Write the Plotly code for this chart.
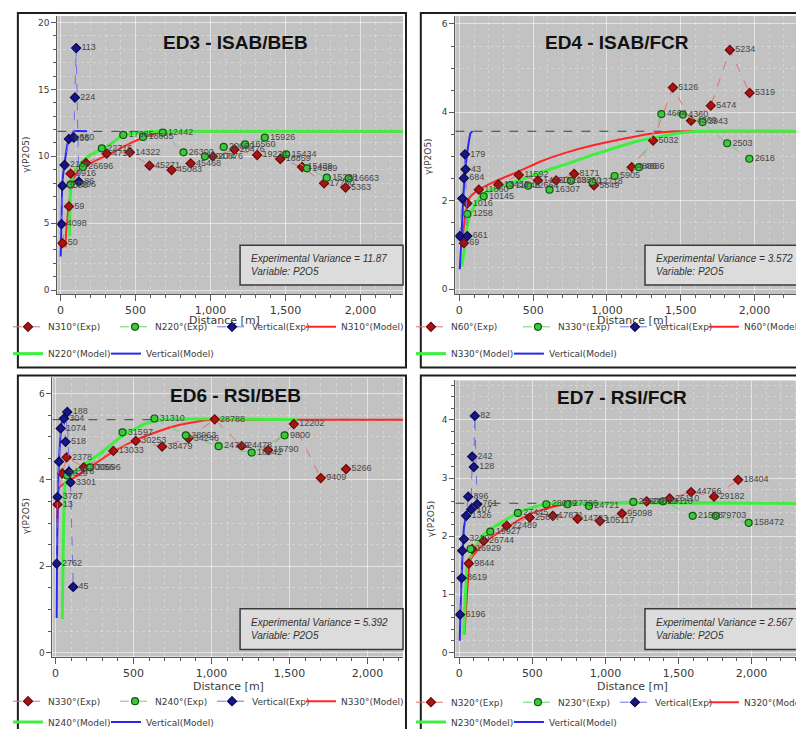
import plotly.graph_objects as go

W, H = 804, 729

# ===================== data =====================
# ---- ED3 - ISAB/BEB ----
ED3_VARIANCE = 11.87
ED3_N310_DIST = [13, 57, 68, 170, 309, 463, 594, 741, 868, 1015, 1160, 1311, 1465, 1610, 1757, 1900]
ED3_N310_GAMMA = [3.5, 6.25, 8.7, 9.5, 10.2, 10.3, 9.3, 8.97, 9.47, 10.0, 10.5, 10.1, 9.8, 9.2, 7.98, 7.66]
ED3_N310_PAIRS = ["50", "59", "9916", "", "4716", "14322", "45271", "45083", "45468", "20876", "20476",
                  "19234", "18859", "15439", "17760", "5363"]
ED3_N220_DIST = [68, 150, 276, 419, 551, 682, 820, 963, 1088, 1231, 1362, 1504, 1643, 1775, 1921]
ED3_N220_GAMMA = [7.9, 9.2, 10.6, 11.6, 11.45, 11.77, 10.3, 10.0, 10.7, 10.9, 11.4, 10.15, 9.1, 8.4, 8.35]
ED3_N220_PAIRS = ["7596", "26696", "22716", "17085", "18035", "12442", "26300", "20474", "20660", "16560",
                  "15926", "15434", "14569", "15288", "16663"]
ED3_VERT_DIST = [7, 13, 28, 57, 90, 97, 105, 123]
ED3_VERT_GAMMA = [4.93, 7.8, 9.35, 11.3, 11.4, 14.4, 18.1, 8.1]
ED3_VERT_PAIRS = ["4098", "3596", "2139", "936", "680", "224", "113", "86"]
ED3_N310_MODEL_DIST = [33, 40, 50, 60, 79, 123, 222, 331, 485, 600, 700, 800, 2290]
ED3_N310_MODEL_GAMMA = [3.2, 4.6, 5.7, 6.6, 7.98, 8.97, 9.6, 10.2, 11.08, 11.6, 11.85, 11.87, 11.87]
ED3_N220_MODEL_DIST = [62, 64, 68, 80, 112, 199, 309, 419, 572, 650, 2290]
ED3_N220_MODEL_GAMMA = [4.0, 6.0, 7.73, 8.5, 9.2, 10.1, 10.7, 11.58, 11.82, 11.87, 11.87]
ED3_VERT_MODEL_DIST = [2, 7, 13, 28, 51, 75, 90, 178]
ED3_VERT_MODEL_GAMMA = [2.5, 5.0, 8.0, 9.47, 11.08, 11.6, 11.87, 11.87]

# ---- ED4 - ISAB/FCR ----
ED4_VARIANCE = 3.572
ED4_N60_DIST = [31, 54, 132, 265, 403, 533, 656, 778, 912, 1168, 1313, 1447, 1570, 1704, 1833, 1967]
ED4_N60_GAMMA = [1.04, 1.94, 2.25, 2.37, 2.58, 2.46, 2.46, 2.61, 2.35, 2.76, 3.36, 4.56, 3.81, 4.15, 5.41, 4.44]
ED4_N60_PAIRS = ["69", "1016", "11860", "13452", "11592", "14750", "16208", "8171", "5849", "4886", "5032",
                 "5126", "4369", "5474", "5234", "5319"]
ED4_N330_DIST = [54, 165, 343, 466, 611, 756, 901, 1052, 1218, 1369, 1514, 1648, 1815, 1965]
ED4_N330_GAMMA = [1.70, 2.10, 2.35, 2.34, 2.25, 2.45, 2.43, 2.56, 2.76, 3.96, 3.95, 3.78, 3.30, 2.95]
ED4_N330_PAIRS = ["1258", "10145", "11746", "12664", "16307", "13560", "12718", "5905", "4886", "4664",
                  "4360", "3943", "2503", "2618"]
ED4_VERT_DIST = [3, 20, 31, 38, 42, 54]
ED4_VERT_GAMMA = [1.2, 2.05, 2.51, 3.05, 2.71, 1.2]
ED4_VERT_PAIRS = ["", "", "684", "179", "43", "661"]
ED4_N60_MODEL_DIST = [20, 30, 45, 65, 132, 250, 400, 560, 734, 900, 1068, 1200, 1336, 1450, 1550, 2330]
ED4_N60_MODEL_GAMMA = [0.97, 1.4, 1.75, 2.05, 2.25, 2.45, 2.66, 2.9, 3.1, 3.25, 3.37, 3.46, 3.53, 3.565, 3.572, 3.572]
ED4_N330_MODEL_DIST = [15, 31, 50, 76, 154, 332, 400, 560, 734, 900, 1068, 1200, 1358, 1500, 1626, 2330]
ED4_N330_MODEL_GAMMA = [0.5, 0.82, 1.35, 1.71, 2.13, 2.39, 2.45, 2.65, 2.84, 3.03, 3.21, 3.34, 3.45, 3.53, 3.572, 3.572]
ED4_VERT_MODEL_DIST = [3, 10, 15, 20, 25, 31, 40, 54, 65, 76, 90]
ED4_VERT_MODEL_GAMMA = [0.45, 0.9, 1.19, 1.6, 1.95, 2.3, 2.7, 3.1, 3.35, 3.53, 3.572]

# ---- ED6 - RSI/BEB ----
ED6_VARIANCE = 5.392
ED6_N330_DIST = [13, 44, 72, 182, 371, 515, 684, 853, 1021, 1194, 1363, 1528, 1701, 1863]
ED6_N330_GAMMA = [3.43, 4.15, 4.52, 4.29, 4.67, 4.9, 4.77, 4.96, 5.40, 4.78, 4.69, 5.29, 4.04, 4.25]
ED6_N330_PAIRS = ["13", "3629", "2378", "30056", "13033", "30253", "38479", "34246", "28788", "24478",
                  "15790", "12202", "9409", "5266"]
ED6_N240_DIST = [75, 224, 430, 635, 836, 1046, 1258, 1469]
ED6_N240_GAMMA = [4.1, 4.29, 5.1, 5.42, 5.03, 4.78, 4.63, 5.03]
ED6_N240_PAIRS = ["", "30696", "31597", "31310", "28963", "24709", "18042", "9800"]
ED6_VERT_DIST = [8, 13, 23, 34, 55, 65, 76, 87, 97, 114]
ED6_VERT_GAMMA = [2.06, 3.6, 4.42, 5.19, 5.42, 4.88, 5.57, 4.19, 3.94, 1.52]
ED6_VERT_PAIRS = ["2762", "3787", "", "1074", "304", "518", "188", "1276", "3301", "45"]
ED6_N330_MODEL_DIST = [12, 15, 25, 60, 120, 224, 371, 540, 751, 962, 1063, 2230]
ED6_N330_MODEL_GAMMA = [3.0, 3.6, 3.82, 3.92, 4.05, 4.3, 4.65, 4.96, 5.23, 5.38, 5.392, 5.392]
ED6_N240_MODEL_DIST = [44, 48, 52, 57, 65, 139, 287, 435, 582, 688, 1550]
ED6_N240_MODEL_GAMMA = [0.78, 1.8, 2.8, 3.5, 3.92, 4.23, 4.61, 5.03, 5.3, 5.392, 5.392]
ED6_VERT_MODEL_DIST = [8, 10, 13, 18, 25, 35, 45, 60]
ED6_VERT_MODEL_GAMMA = [0.8, 2.0, 3.0, 3.9, 4.6, 5.1, 5.392, 5.392]

# ---- ED7 - RSI/FCR ----
ED7_VARIANCE = 2.567
ED7_N320_DIST = [65, 88, 167, 324, 482, 640, 809, 962, 1113, 1282, 1439, 1586, 1743, 1908]
ED7_N320_GAMMA = [1.53, 1.78, 1.92, 2.18, 2.32, 2.35, 2.3, 2.26, 2.39, 2.6, 2.65, 2.76, 2.68, 2.97]
ED7_N320_PAIRS = ["9844", "", "26744", "22489", "25867", "17871", "14723", "105117", "95098", "28610",
                  "25110", "44766", "29182", "18404"]
ED7_N230_DIST = [77, 212, 401, 595, 741, 887, 1191, 1394, 1597, 1755, 1980]
ED7_N230_GAMMA = [1.78, 2.08, 2.4, 2.55, 2.55, 2.52, 2.59, 2.6, 2.35, 2.35, 2.23]
ED7_N230_PAIRS = ["16929", "19927", "27445", "28079", "27396", "24721", "28800", "29110", "21568",
                  "79703", "158472"]
ED7_VERT_DIST = [5, 16, 20, 32, 47, 61, 81, 88, 99, 106, 122]
ED7_VERT_GAMMA = [0.65, 1.28, 1.75, 1.95, 2.35, 2.68, 2.46, 3.37, 3.19, 4.07, 2.55]
ED7_VERT_PAIRS = ["6196", "8619", "", "3210", "1326", "896", "107", "242", "128", "82", "761"]
ED7_N320_MODEL_DIST = [35, 50, 62, 77, 189, 324, 482, 662, 820, 2345]
ED7_N320_MODEL_GAMMA = [0.3, 0.9, 1.3, 1.6, 1.92, 2.15, 2.38, 2.52, 2.567, 2.567]
ED7_N230_MODEL_DIST = [30, 40, 48, 54, 167, 302, 460, 595, 700, 2345]
ED7_N230_MODEL_GAMMA = [0.3, 0.9, 1.3, 1.52, 2.03, 2.26, 2.46, 2.55, 2.567, 2.567]
ED7_VERT_MODEL_DIST = [3, 8, 14, 20, 26, 32, 43, 54, 76, 90]
ED7_VERT_MODEL_GAMMA = [0.2, 0.7, 1.2, 1.55, 1.9, 2.15, 2.3, 2.42, 2.53, 2.567]

X_TITLE = "Distance [m]"
Y_TITLE = "γ(P2O5)"

# ===================== panel configuration =====================
PANELS = [
    dict(title="ED3 - ISAB/BEB", variance=ED3_VARIANCE, d1="N310°", d2="N220°",
         exp=[(ED3_N310_DIST, ED3_N310_GAMMA, ED3_N310_PAIRS),
              (ED3_N220_DIST, ED3_N220_GAMMA, ED3_N220_PAIRS),
              (ED3_VERT_DIST, ED3_VERT_GAMMA, ED3_VERT_PAIRS)],
         mod=[(ED3_N310_MODEL_DIST, ED3_N310_MODEL_GAMMA),
              (ED3_N220_MODEL_DIST, ED3_N220_MODEL_GAMMA),
              (ED3_VERT_MODEL_DIST, ED3_VERT_MODEL_GAMMA)],
         frame=(10, 5, 403, 362), plot=(50, 8, 400, 288), xr=[-20, 2283], yr=[-0.3, 20.5],
         ydt=5, ymin=1, tpos=(230, 35), box=(235, 239, 400, 279), rows=(321, 348),
         xt=(219, 315), yt=(18, 148)),
    dict(title="ED4 - ISAB/FCR", variance=ED4_VARIANCE, d1="N60°", d2="N330°",
         exp=[(ED4_N60_DIST, ED4_N60_GAMMA, ED4_N60_PAIRS),
              (ED4_N330_DIST, ED4_N330_GAMMA, ED4_N330_PAIRS),
              (ED4_VERT_DIST, ED4_VERT_GAMMA, ED4_VERT_PAIRS)],
         mod=[(ED4_N60_MODEL_DIST, ED4_N60_MODEL_GAMMA),
              (ED4_N330_MODEL_DIST, ED4_N330_MODEL_GAMMA),
              (ED4_VERT_MODEL_DIST, ED4_VERT_MODEL_GAMMA)],
         frame=(418, 5, 808, 362), plot=(453, 8, 804, 288), xr=[-27, 2322], yr=[-0.11, 6.18],
         ydt=2, ymin=0.5, tpos=(617, 35), box=(645, 239, 808, 279), rows=(321, 348),
         xt=(632, 315), yt=(425, 150)),
    dict(title="ED6 - RSI/BEB", variance=ED6_VARIANCE, d1="N330°", d2="N240°",
         exp=[(ED6_N330_DIST, ED6_N330_GAMMA, ED6_N330_PAIRS),
              (ED6_N240_DIST, ED6_N240_GAMMA, ED6_N240_PAIRS),
              (ED6_VERT_DIST, ED6_VERT_GAMMA, ED6_VERT_PAIRS)],
         mod=[(ED6_N330_MODEL_DIST, ED6_N330_MODEL_GAMMA),
              (ED6_N240_MODEL_DIST, ED6_N240_MODEL_GAMMA),
              (ED6_VERT_MODEL_DIST, ED6_VERT_MODEL_GAMMA)],
         frame=(10, 370, 403, 728), plot=(45, 372, 400, 653), xr=[-19, 2228], yr=[-0.09, 6.37],
         ydt=2, ymin=0.5, tpos=(230, 390), box=(235, 605, 400, 646), rows=(698, 719),
         xt=(223, 683), yt=(19, 512)),
    dict(title="ED7 - RSI/FCR", variance=ED7_VARIANCE, d1="N320°", d2="N230°",
         exp=[(ED7_N320_DIST, ED7_N320_GAMMA, ED7_N320_PAIRS),
              (ED7_N230_DIST, ED7_N230_GAMMA, ED7_N230_PAIRS),
              (ED7_VERT_DIST, ED7_VERT_GAMMA, ED7_VERT_PAIRS)],
         mod=[(ED7_N320_MODEL_DIST, ED7_N320_MODEL_GAMMA),
              (ED7_N230_MODEL_DIST, ED7_N230_MODEL_GAMMA),
              (ED7_VERT_MODEL_DIST, ED7_VERT_MODEL_GAMMA)],
         frame=(418, 370, 808, 728), plot=(453, 375, 804, 653), xr=[-27, 2345], yr=[-0.07, 4.68],
         ydt=1, ymin=0.2, tpos=(622, 392), box=(645, 605, 808, 646), rows=(699, 719),
         xt=(632, 683), yt=(429, 515)),
]

EXP_STYLE = [
    dict(line="#e07070", symbol="diamond", fill="#a81414", edge="#6a0a0a"),
    dict(line="#6fd06f", symbol="circle", fill="#3cc83c", edge="#0f5a0f"),
    dict(line="#7070e8", symbol="diamond", fill="#16168a", edge="#0a0a50"),
]
MODEL_STYLE = [
    dict(color="#ff2626", width=2),
    dict(color="#3ef03e", width=3),
    dict(color="#2828f0", width=2),
]
# legend entry widths (px) for row 1 entries and row 2 first entry
ROW1_W = [62, 52, 44, None]
ROW2_W = [53, None]

GRID_MAJOR = "rgba(255,255,255,0.55)"
GRID_MINOR = "rgba(255,255,255,0.28)"
AX_COL = "#5a5a5a"
TXT_COL = "#3a3a3a"


def px_x(p):
    return p / W


def px_y(p):
    return (H - p) / H


fig = go.Figure()
layout = dict(width=W, height=H, margin=dict(l=0, r=0, t=0, b=0),
              paper_bgcolor="white", plot_bgcolor="#c2c2c2", showlegend=True,
              font=dict(family="DejaVu Sans", color=TXT_COL))
shapes, annotations = [], []

for i, P in enumerate(PANELS):
    n = i + 1
    xn = "x" if n == 1 else f"x{n}"
    yn = "y" if n == 1 else f"y{n}"
    lg1 = "legend" if 2 * i + 1 == 1 else f"legend{2 * i + 1}"
    lg2 = f"legend{2 * i + 2}"
    names_exp = [f"{P['d1']}(Exp)", f"{P['d2']}(Exp)", "Vertical(Exp)"]
    names_mod = [f"{P['d1']}(Model)", f"{P['d2']}(Model)", "Vertical(Model)"]

    # sill / experimental variance line
    fig.add_trace(go.Scatter(x=P["xr"], y=[P["variance"], P["variance"]], mode="lines",
                             line=dict(color="#404040", width=1, dash="dash"),
                             showlegend=False, hoverinfo="skip", xaxis=xn, yaxis=yn))
    # model curves
    for k, (mx, my) in enumerate(P["mod"]):
        st = MODEL_STYLE[k]
        if k == 0:
            leg, rank, lw = lg1, 4, ROW1_W[3]
        else:
            leg, rank, lw = lg2, k, ROW2_W[k - 1]
        kw = dict(legendwidth=lw) if lw else {}
        fig.add_trace(go.Scatter(x=mx, y=my, mode="lines", name=names_mod[k],
                                 line=dict(color=st["color"], width=st["width"], shape="spline",
                                           smoothing=0.6),
                                 legend=leg, legendrank=rank, xaxis=xn, yaxis=yn,
                                 hoverinfo="skip", **kw))
    # experimental points
    for k, (ex, ey, ep) in enumerate(P["exp"]):
        st = EXP_STYLE[k]
        kw = dict(legendwidth=ROW1_W[k]) if ROW1_W[k] else {}
        fig.add_trace(go.Scatter(x=ex, y=ey, mode="lines+markers", name=names_exp[k],
                                 line=dict(color=st["line"], width=1, dash="dash"),
                                 marker=dict(symbol=st["symbol"], size=7, color=st["fill"],
                                             line=dict(color=st["edge"], width=1.2)),
                                 legend=lg1, legendrank=k + 1, xaxis=xn, yaxis=yn,
                                 hoverinfo="skip", **kw))
    # pair count labels
    for k, (ex, ey, ep) in enumerate(P["exp"]):
        fig.add_trace(go.Scatter(x=ex, y=ey, mode="markers+text", text=ep,
                                 textposition="middle right",
                                 textfont=dict(family="Liberation Sans", size=9, color="#474747"),
                                 marker=dict(size=7, color="rgba(0,0,0,0)"),
                                 showlegend=False, hoverinfo="skip", xaxis=xn, yaxis=yn))

    pl, pt, pr, pb = P["plot"]
    layout["xaxis" if n == 1 else f"xaxis{n}"] = dict(
        domain=[px_x(pl), min(1.0, px_x(pr))], range=P["xr"], anchor=yn,
        showline=True, linecolor=AX_COL, linewidth=1, ticks="outside", ticklen=6,
        tickcolor=AX_COL, tick0=0, dtick=500, tickformat=",",
        tickfont=dict(family="DejaVu Sans", size=11, color=TXT_COL),
        showgrid=True, gridcolor=GRID_MAJOR, gridwidth=1, zeroline=False,
        minor=dict(dtick=100, tick0=0, ticks="outside", ticklen=3, tickcolor=AX_COL,
                   showgrid=True, gridcolor=GRID_MINOR, griddash="dot"),
        fixedrange=True)
    layout["yaxis" if n == 1 else f"yaxis{n}"] = dict(
        domain=[px_y(pb), px_y(pt)], range=P["yr"], anchor=xn,
        showline=True, linecolor=AX_COL, linewidth=1, ticks="outside", ticklen=5,
        tickcolor=AX_COL, tick0=0, dtick=P["ydt"],
        tickfont=dict(family="DejaVu Sans", size=9, color=TXT_COL),
        showgrid=True, gridcolor=GRID_MAJOR, gridwidth=1, zeroline=False,
        minor=dict(dtick=P["ymin"], tick0=0, ticks="outside", ticklen=3, tickcolor=AX_COL,
                   showgrid=True, gridcolor=GRID_MINOR, griddash="dot"),
        fixedrange=True)

    # axis titles placed as annotations
    xtx, xty = P["xt"]
    annotations.append(dict(xref="paper", yref="paper", x=px_x(xtx), y=px_y(xty),
                            xanchor="center", yanchor="middle", showarrow=False, text=X_TITLE,
                            font=dict(family="DejaVu Sans", size=11, color=TXT_COL)))
    ytx, yty = P["yt"]
    annotations.append(dict(xref="paper", yref="paper", x=px_x(ytx), y=px_y(yty),
                            xanchor="center", yanchor="middle", showarrow=False, text=Y_TITLE,
                            textangle=-90,
                            font=dict(family="DejaVu Sans", size=9, color=TXT_COL)))

    fl, ft, fr, fb = P["frame"]
    shapes.append(dict(type="rect", xref="paper", yref="paper", x0=px_x(fl), x1=px_x(fr),
                       y0=px_y(fb), y1=px_y(ft), line=dict(color="#1e1e1e", width=2),
                       fillcolor="rgba(0,0,0,0)", layer="above"))
    bl, bt, br, bb = P["box"]
    shapes.append(dict(type="rect", xref="paper", yref="paper", x0=px_x(bl), x1=px_x(br),
                       y0=px_y(bb), y1=px_y(bt), line=dict(color="#3a3a3a", width=1.5),
                       fillcolor="#dcdcdc", layer="above"))
    annotations.append(dict(xref="paper", yref="paper", x=px_x(bl + 9), y=px_y((bt + bb) / 2),
                            xanchor="left", yanchor="middle", align="left", showarrow=False,
                            text=f"<i>Experimental Variance = {P['variance']}</i><br><i>Variable: P2O5</i>",
                            font=dict(family="Liberation Sans", size=10, color="#333333")))
    tx, ty = P["tpos"]
    annotations.append(dict(xref="paper", yref="paper", x=px_x(tx), y=px_y(ty),
                            xanchor="center", yanchor="middle", showarrow=False,
                            text=f"<b>{P['title']}</b>",
                            font=dict(family="Liberation Sans", size=19, color="#111111")))
    r1, r2 = P["rows"]
    for lgname, ry in ((lg1, r1), (lg2, r2)):
        layout[lgname] = dict(x=px_x(fl - 10), y=px_y(ry), xanchor="left", yanchor="middle",
                              orientation="h", bgcolor="rgba(0,0,0,0)", borderwidth=0,
                              itemwidth=30, traceorder="normal",
                              font=dict(family="DejaVu Sans", size=9, color=TXT_COL))

layout["shapes"] = shapes
layout["annotations"] = annotations
fig.update_layout(**layout)
fig.write_html("out.html")
